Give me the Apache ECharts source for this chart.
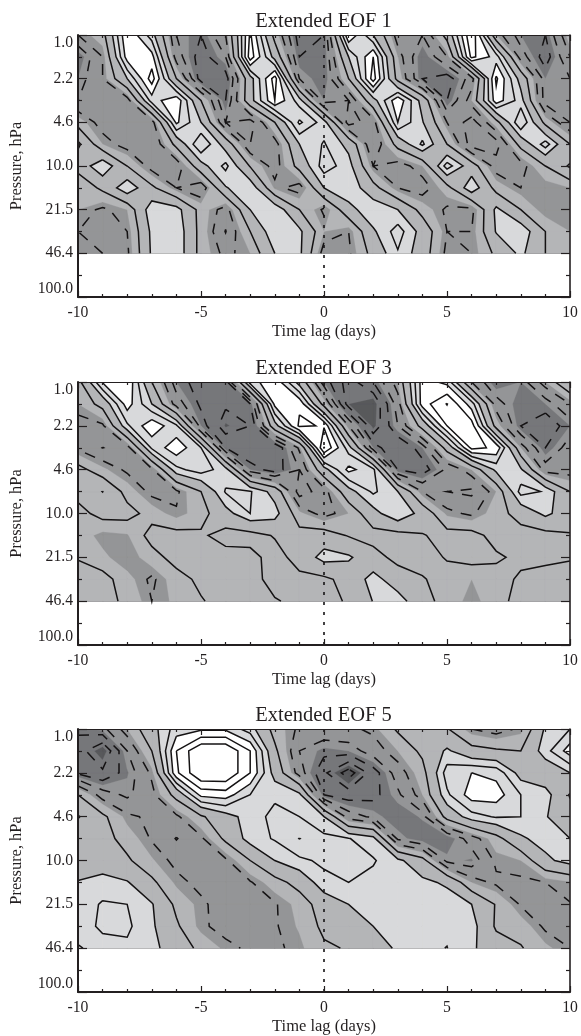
<!DOCTYPE html>
<html>
<head>
<meta charset="utf-8">
<style>html,body{margin:0;padding:0;background:#fff}#chart{width:581px;height:1036px}</style>
<script src="https://cdn.jsdelivr.net/npm/echarts@6/dist/echarts.min.js"></script>
</head>
<body>
<div id="chart"></div>
<script>
var pressureLabels = ['1.0', '2.2', '4.6', '10.0', '21.5', '46.4', '100.0'];
var timeLags = [-10,-9,-8,-7,-6,-5,-4,-3,-2,-1,0,1,2,3,4,5,6,7,8,9,10];
var panelTitles = ['Extended EOF 1', 'Extended EOF 3', 'Extended EOF 5'];
var fillLevels = [-4.5, -2.5, -0.5, 2, 4];
var fillColors = ['#58595b', '#76777a', '#949597', '#b4b5b7', '#d8d9db', '#ffffff'];
var contourLevels = [-5, -4, -3, -2, -1, 0.5, 2, 3, 4, 5, 6];
var negativeBelow = 0;

// rows run from 1.0 hPa down to 46.4 hPa in half-tick steps
var eof1 = [
 [-1,0,5,2.5,-2,-3,-1,5.2,0,-3.5,-3,5,2,-1.5,-2,1,6,-0.5,-2.5,-3,0],
 [-3,-1,4.5,4.4,-1.5,-3.5,-2,5.6,1.5,-3,-3,2,5,-0.5,-3,-1,5.3,3.5,-1.5,-3.5,-1],
 [-2.5,-1,2,5.5,0.5,-3.5,-3.5,1.5,5.5,-2,-3,0.5,5.5,0,-3,-3.5,-1.5,5.2,1.5,-2.5,-2],
 [-2,-1.5,-1.5,3.5,4.8,0.5,-3,1.5,5,2.5,-2.5,-2,1.5,4.8,1.5,-3,-0.5,4.6,2.5,-2.5,-2.5],
 [0,-1.5,-2,-1.5,4.2,2,-2,-2.5,0.5,4.2,2.5,-2.5,-1.5,4,2.1,-1,-2.5,0,4,0.1,-2],
 [2.3,-0.5,-1.5,-2,0.9,4,1.4,-2,-1.5,2,3.1,1.6,-2,1,3.2,0.5,-2.5,-2.5,1,3.5,0.5],
 [1,3,0.5,-1.5,-1.8,1.5,3.3,0.4,-1.5,1,3.5,2.5,-1,-1.5,-0.5,3.5,1.2,-1.5,-1.5,0.5,2.2],
 [-0.5,0.8,2.9,0.8,-1,-1.8,1.9,2.9,-0.7,-1.5,2,2.9,1,-1,-1.5,0,2.9,0,-1,-1,-0.5],
 [-0.5,-1.2,-0.5,2.8,2.5,0,-1.5,2,2.9,0.5,-1.2,1.5,2.9,2,0,-1.2,-1.3,2.3,0.5,-1,-1],
 [-1,-1.5,-1,2.3,2.9,0,-2.05,0.5,2.9,2.3,-0.5,-1,1.8,3.5,1.5,-1,-1,2.1,2.9,0.5,-0.5],
 [-0.5,-1,-1.2,2.2,2.9,0,-1.3,-0.5,2,2.3,-1.5,-1.2,1,2.9,1.3,-1.3,-1,0.8,2.3,0.5,-0.5]
];
var eof3 = [
 [0,4.1,5,0.5,-2.5,-3.5,-3.5,3.5,4.8,1.5,-2.5,-4.5,-3,-0.5,4.5,3.7,-1,-3,-2.5,-0.5,2],
 [-0.5,1,4.5,2,-1.5,-3.2,-3.8,-3,4.3,4.8,0,-4.5,-5,-1.5,4.5,6.05,3.5,-1.5,-3,-2.5,-1],
 [-1.5,-1.2,2.8,4.8,3.2,-2.5,-4.6,-4,1.5,5.2,4.9,-1,-4.8,-2,1,5,5.5,0,-3,-3.7,-2.5],
 [-1.2,-2.02,-1.5,3.2,4.7,3,-3,-4,-4,-0.8,6.05,2.5,-2.5,-4,-2.5,1,5.3,4.8,-0.5,-3,-1.5],
 [1,-0.3,-1.2,-1.2,2.7,3.5,2.5,-2.5,-3.5,-2,1.5,4.3,3.3,-3,-3.5,-1.8,-0.5,2.3,2.2,-1.5,-1.5],
 [1,2.02,0,-1.3,-1.2,0.5,3.1,3.1,1.5,-2.5,-1.5,1.5,3.2,2,-1,-2,-2.2,-0.5,3.4,2.9,0.5],
 [0,1,1,0,-0.9,0,1.5,3,2.5,-0.3,-1.4,-0.5,1.5,3,1.5,-0.7,-1.2,0,1,2.3,1.2],
 [0,-0.8,-0.6,1,1,0.7,0,0,0.6,1,1.2,0.4,0,0,0.4,1,1,0,0,0,0.4],
 [0.4,-0.3,-1,0,1,1,1,0.9,0,1,2.5,2.2,1,0.1,0,0.6,1,0.7,0.2,0.2,0.4],
 [1.2,1,-0.2,-1.2,0,0.8,1,1,0,0.2,0.2,1,2.5,1.2,0.6,0,-0.5,0,0.7,1,1],
 [1,1,0.2,-1,-0.3,0.4,1,1,0.6,0.2,0.2,0.6,2.05,2.6,1,0,-0.8,0,1,1,1]
];
var eof5 = [
 [-2.8,-2.3,-0.5,1.5,3.5,3.8,3.8,2.5,0,-1.2,-1.3,-1.2,-0.8,0.7,1,0.6,-1,-1.5,-0.8,2.2,3],
 [-3.5,-5,-2,0.5,5,7,7,5,0.8,-2,-2.7,-2.5,-1.5,-0.5,0.8,2.2,1,0.7,0.5,2.6,4.5],
 [-3.2,-3.8,-2.6,-0.8,4.8,7,7,5,1.5,-1.5,-3.8,-5.5,-3.5,-1.5,0,3.5,4,3.7,1.5,1,2],
 [0.5,-1.5,-2.2,-1.3,1,4.3,4.5,3,2.8,2.3,-3,-3.5,-3.3,-2.2,-0.5,2.8,4.5,4.5,3,2.5,0.4],
 [2.1,0.8,-0.8,-1.2,-1.2,0.3,1.5,2.5,3.3,3,2,-1.5,-2.2,-3,-2.4,1,2.6,3.1,3,2.1,1],
 [1,1,0,-1.1,-2.05,-1.2,0.8,2.5,3.1,4.02,3.3,3.05,2.4,-2.2,-3,-3,-1.5,0,1.8,2.5,2],
 [1,1.2,0.7,-0.4,-1.3,-1.2,-1.2,0.5,2,2.8,3.2,3.5,3.1,2.3,1,-2.3,-2.6,-0.8,-0.5,1.7,2.5],
 [2.1,2.5,2.1,0.8,-0.7,-1.3,-1.3,-1.1,0,1,2.7,3,2.7,2.5,2.3,1.8,-0.5,-1.2,-1.2,-1,-0.6],
 [2.5,3.1,3,2.1,0.2,-0.8,-1.5,-1.2,-1.1,-0.2,1.2,2,2.6,2.8,2.8,2.6,2,0.4,-1.1,-1.3,-1.05],
 [2.5,3.2,3.2,2.2,0.7,-0.8,-1.4,-1.5,-1.1,-0.4,0.8,1.5,2,2.6,2.9,2.8,2.5,0.3,0,-1.2,-1.2],
 [3.1,2.6,2.8,2.4,1.2,0.2,-0.7,-1.2,-1.2,-0.7,0.3,0.6,1.3,2.2,2.8,3.02,2.2,1.2,0.6,-0.3,-1]
];
var panelValues = [eof1, eof3, eof5];

var gridTops = [35, 382, 729];
var gridHeights = [262, 263, 263];
var serif = '"Liberation Serif", "Times New Roman", serif';
var ink = '#231f20';

function crossing(a, b, va, vb, t) {
  var f = (t - va) / (vb - va);
  return [a[0] + (b[0] - a[0]) * f, a[1] + (b[1] - a[1]) * f];
}
function cellAt(values, i, r) {
  return {
    pts: [[timeLags[i], r / 2], [timeLags[i + 1], r / 2], [timeLags[i + 1], (r + 1) / 2], [timeLags[i], (r + 1) / 2]],
    vals: [values[r][i], values[r][i + 1], values[r + 1][i + 1], values[r + 1][i]]
  };
}
function fillPolys(cell, t) {
  var v = cell.vals, p = cell.pts, ins = v.map(function (x) { return x >= t; });
  var saddle = ins[0] === ins[2] && ins[1] === ins[3] && ins[0] !== ins[1];
  var avg = (v[0] + v[1] + v[2] + v[3]) / 4;
  var out = [];
  if (saddle && avg < t) {
    for (var k = 0; k < 4; k++) {
      if (!ins[k]) continue;
      var n = (k + 1) % 4, m = (k + 3) % 4;
      out.push([p[k], crossing(p[k], p[n], v[k], v[n], t), crossing(p[m], p[k], v[m], v[k], t)]);
    }
    return out;
  }
  var poly = [];
  for (var j = 0; j < 4; j++) {
    var nx = (j + 1) % 4;
    if (ins[j]) poly.push(p[j]);
    if (ins[j] !== ins[nx]) poly.push(crossing(p[j], p[nx], v[j], v[nx], t));
  }
  if (poly.length > 2) out.push(poly);
  return out;
}
function traceContours(values, t) {
  var adj = {}, pos = {};
  function edgeId(i, r, e) {
    if (e === 0) return 'h' + i + '_' + r;
    if (e === 2) return 'h' + i + '_' + (r + 1);
    if (e === 1) return 'v' + (i + 1) + '_' + r;
    return 'v' + i + '_' + r;
  }
  function link(a, b) {
    (adj[a] = adj[a] || []).push(b);
    (adj[b] = adj[b] || []).push(a);
  }
  for (var r = 0; r < values.length - 1; r++) {
    for (var i = 0; i < timeLags.length - 1; i++) {
      var c = cellAt(values, i, r), v = c.vals, p = c.pts;
      var ins = v.map(function (x) { return x >= t; });
      var hits = [];
      for (var e = 0; e < 4; e++) {
        var n = (e + 1) % 4;
        if (ins[e] !== ins[n]) {
          var id = edgeId(i, r, e);
          pos[id] = crossing(p[e], p[n], v[e], v[n], t);
          hits.push(e);
        }
      }
      if (hits.length === 2) {
        link(edgeId(i, r, hits[0]), edgeId(i, r, hits[1]));
      } else if (hits.length === 4) {
        var avg = (v[0] + v[1] + v[2] + v[3]) / 4;
        var isolateInside = avg < t;
        for (var k = 0; k < 4; k++) {
          if (ins[k] === isolateInside) link(edgeId(i, r, (k + 3) % 4), edgeId(i, r, k));
        }
      }
    }
  }
  var used = {}, lines = [];
  function walk(start) {
    var line = [pos[start]], cur = start, prev = null;
    used[start] = true;
    while (true) {
      var next = null, opts = adj[cur];
      for (var q = 0; q < opts.length; q++) {
        if (!used[opts[q]]) { next = opts[q]; break; }
      }
      if (next === null) {
        if (opts.indexOf(start) >= 0 && prev !== start && line.length > 2) line.push(pos[start]);
        break;
      }
      used[next] = true;
      line.push(pos[next]);
      prev = cur;
      cur = next;
    }
    lines.push(line);
  }
  Object.keys(adj).forEach(function (id) { if (adj[id].length === 1 && !used[id]) walk(id); });
  Object.keys(adj).forEach(function (id) { if (!used[id]) walk(id); });
  return lines;
}
function makeRenderItem(values) {
  var contours = contourLevels.map(function (t) { return { level: t, lines: traceContours(values, t) }; });
  return function (params, api) {
    if (params.dataIndex !== 0) return null;
    var children = [];
    function toPath(polys) {
      return polys.map(function (poly) {
        return poly.map(function (pt, idx) {
          var xy = api.coord(pt);
          return (idx ? 'L' : 'M') + xy[0].toFixed(2) + ' ' + xy[1].toFixed(2);
        }).join('') + 'Z';
      }).join('');
    }
    var allThresholds = [-Infinity].concat(fillLevels);
    allThresholds.forEach(function (t, band) {
      var polys = [];
      for (var r = 0; r < values.length - 1; r++) {
        for (var i = 0; i < timeLags.length - 1; i++) {
          var c = cellAt(values, i, r);
          if (t === -Infinity) polys.push(c.pts);
          else polys = polys.concat(fillPolys(c, t));
        }
      }
      if (polys.length) {
        children.push({ type: 'path', shape: { pathData: toPath(polys) }, style: { fill: fillColors[band], stroke: fillColors[band], lineWidth: 0.3 } });
      }
    });
    contours.forEach(function (c) {
      c.lines.forEach(function (line) {
        children.push({
          type: 'polyline',
          shape: { points: line.map(function (pt) { return api.coord(pt); }) },
          style: { fill: null, stroke: '#141213', lineWidth: 1.5, lineDash: c.level < negativeBelow ? [11, 9] : null, lineJoin: 'miter' }
        });
      });
    });
    return { type: 'group', children: children };
  };
}

var grids = [], xAxes = [], yAxes = [], series = [], titles = [];
panelValues.forEach(function (values, k) {
  grids.push({ left: 78, width: 492, top: gridTops[k], height: gridHeights[k] });
  titles.push({ text: panelTitles[k], left: 318.5, top: gridTops[k] - 29, textAlign: 'center',
    textStyle: { fontFamily: serif, fontSize: 20.5, fontWeight: 'normal', color: ink } });
  var axisBase = { min: -10, max: 10, interval: 5, gridIndex: k, z: 6, splitLine: { show: false } };
  xAxes.push(Object.assign({}, axisBase, {
    type: 'value', position: 'bottom',
    name: 'Time lag (days)', nameLocation: 'middle', nameGap: 26,
    nameTextStyle: { fontFamily: serif, fontSize: 16.5, color: ink },
    axisLine: { onZero: false, lineStyle: { color: ink, width: 2 } },
    axisTick: { inside: true, length: 6, lineStyle: { color: ink, width: 1.2 } },
    minorTick: { show: true, splitNumber: 5, length: 3, lineStyle: { color: ink, width: 1.2 } },
    axisLabel: { margin: 8, fontFamily: serif, fontSize: 15.7, color: ink, hideOverlap: false, showMinLabel: true, showMaxLabel: true }
  }));
  xAxes.push(Object.assign({}, axisBase, {
    type: 'value', position: 'top',
    axisLine: { onZero: false, lineStyle: { color: ink, width: 1.2 } },
    axisTick: { inside: true, length: 6, lineStyle: { color: ink, width: 1.2 } },
    minorTick: { show: true, splitNumber: 5, length: 3, lineStyle: { color: ink, width: 1.2 } },
    axisLabel: { show: false }
  }));
  var yBase = { type: 'value', min: 0, max: 6, interval: 1, inverse: true, gridIndex: k, z: 6, splitLine: { show: false } };
  yAxes.push(Object.assign({}, yBase, {
    position: 'left',
    name: 'Pressure, hPa', nameLocation: 'middle', nameGap: 53, nameRotate: 90,
    nameTextStyle: { fontFamily: serif, fontSize: 16.4, color: ink },
    axisLine: { onZero: false, lineStyle: { color: ink, width: 2 } },
    axisTick: { inside: true, length: 9, lineStyle: { color: ink, width: 1.2 } },
    minorTick: { show: true, splitNumber: 2, length: 4, lineStyle: { color: ink, width: 1.2 } },
    axisLabel: { margin: 5, fontFamily: serif, fontSize: 15.7, color: ink, showMinLabel: true, showMaxLabel: true,
      verticalAlignMinLabel: 'top', verticalAlignMaxLabel: 'bottom',
      formatter: function (v) { return pressureLabels[Math.round(v)]; } }
  }));
  yAxes.push(Object.assign({}, yBase, {
    position: 'right',
    axisLine: { onZero: false, lineStyle: { color: ink, width: 1.6 } },
    axisTick: { inside: true, length: 9, lineStyle: { color: ink, width: 1.2 } },
    minorTick: { show: true, splitNumber: 2, length: 4, lineStyle: { color: ink, width: 1.2 } },
    axisLabel: { show: false }
  }));
  var cells = [];
  values.forEach(function (row, r) {
    row.forEach(function (v, i) { cells.push([timeLags[i], r / 2, v]); });
  });
  series.push({
    type: 'custom', xAxisIndex: 2 * k, yAxisIndex: 2 * k, data: cells, silent: true, clip: true, z: 2,
    encode: { x: 0, y: 1 }, animation: false, renderItem: makeRenderItem(values)
  });
  series.push({
    type: 'line', xAxisIndex: 2 * k, yAxisIndex: 2 * k, data: [[0, 0], [0, 6]], symbol: 'none', silent: true, z: 4, animation: false,
    lineStyle: { color: '#141213', width: 1.6, type: [3, 7] }
  });
});

var chart = echarts.init(document.getElementById('chart'), null, { renderer: 'canvas' });
chart.setOption({
  animation: false, backgroundColor: '#ffffff',
  title: titles, grid: grids, xAxis: xAxes, yAxis: yAxes, series: series
});
</script>
</body>
</html>
